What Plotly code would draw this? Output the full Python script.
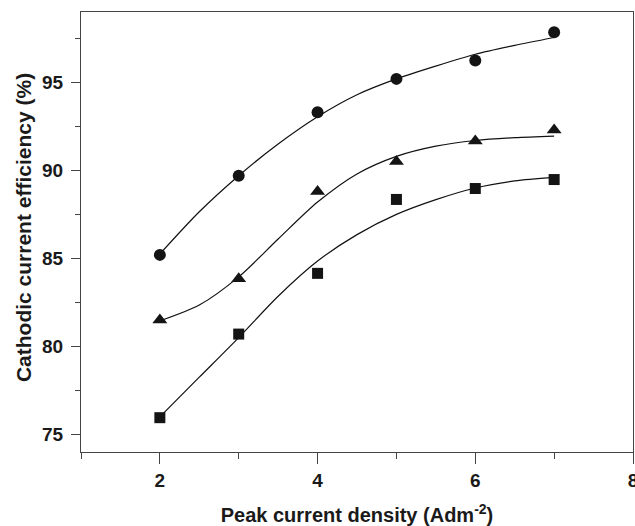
import plotly.graph_objects as go

# Measured data points
x_pts = [2, 3, 4, 5, 6, 7]
circle_vals = [85.2, 89.7, 93.3, 95.2, 96.25, 97.85]
triangle_vals = [81.5, 83.85, 88.8, 90.5, 91.67, 92.3]
square_vals = [75.95, 80.7, 84.15, 88.35, 88.97, 89.48]

# Fitted curves
x_fit = [2, 2.5, 3, 3.5, 4, 4.5, 5, 5.5, 6, 6.5, 7]
circle_fit = [85.25, 87.65, 89.7, 91.5, 93.05, 94.3, 95.2, 95.93, 96.6, 97.1, 97.55]
triangle_fit = [81.45, 82.35, 83.95, 86.1, 88.2, 89.8, 90.8, 91.38, 91.7, 91.86, 91.95]
square_fit = [76.0, 78.25, 80.5, 82.85, 84.85, 86.35, 87.5, 88.34, 89.0, 89.4, 89.6]

x_ticks = [2, 4, 6, 8]
y_ticks = [75, 80, 85, 90, 95]

FONT = "Liberation Sans, Arial, sans-serif"
mark_col = "#141414"

fig = go.Figure()
for fit in [circle_fit, triangle_fit, square_fit]:
    fig.add_trace(go.Scatter(x=x_fit, y=fit, mode="lines",
                             line=dict(color="#111111", width=1.2, shape="spline", smoothing=0.8),
                             showlegend=False, hoverinfo="skip"))
for vals, sym, sz in [(circle_vals, "circle", 12), (triangle_vals, "triangle-up", 13), (square_vals, "square", 11)]:
    fig.add_trace(go.Scatter(x=x_pts, y=vals, mode="markers",
                             marker=dict(symbol=sym, size=sz, color=mark_col, line=dict(width=0)),
                             showlegend=False))

fig.update_layout(
    width=635, height=526,
    margin=dict(l=81, r=2, t=12, b=74),
    paper_bgcolor="white", plot_bgcolor="white",
    font=dict(family=FONT, color="#1a1a1a"),
    xaxis=dict(
        range=[1, 8], tickvals=x_ticks, ticktext=[str(v) for v in x_ticks],
        ticks="outside", ticklen=11, tickwidth=1.2, tickcolor="#444",
        minor=dict(dtick=1, tick0=1, ticks="outside", ticklen=6, tickwidth=1.2, tickcolor="#444"),
        showline=True, linecolor="#444", linewidth=1.2, mirror=True,
        showgrid=False, zeroline=False, automargin=False,
        ticklabeloverflow="allow",
        tickfont=dict(size=19, family=FONT, weight="bold"),
        title=dict(text="Peak current density (Adm<sup>-2</sup>)",
                   font=dict(size=20, family=FONT, weight="bold"), standoff=22),
    ),
    yaxis=dict(
        range=[74, 99], tickvals=y_ticks, ticktext=[str(v) for v in y_ticks],
        ticks="outside", ticklen=9, tickwidth=1.2, tickcolor="#444",
        minor=dict(dtick=2.5, tick0=0, ticks="outside", ticklen=5, tickwidth=1.2, tickcolor="#444"),
        showline=True, linecolor="#444", linewidth=1.2, mirror=True,
        showgrid=False, zeroline=False, automargin=False,
        tickfont=dict(size=19, family=FONT, weight="bold"),
        ticklabelstandoff=4,
    ),
    annotations=[dict(
        text="Cathodic current efficiency (%)", textangle=-90,
        xref="paper", yref="paper", x=-0.105, y=0.509,
        xanchor="center", yanchor="middle", showarrow=False,
        font=dict(size=21, family=FONT, weight="bold", color="#1a1a1a"),
    )],
)

fig.write_html("out.html")
